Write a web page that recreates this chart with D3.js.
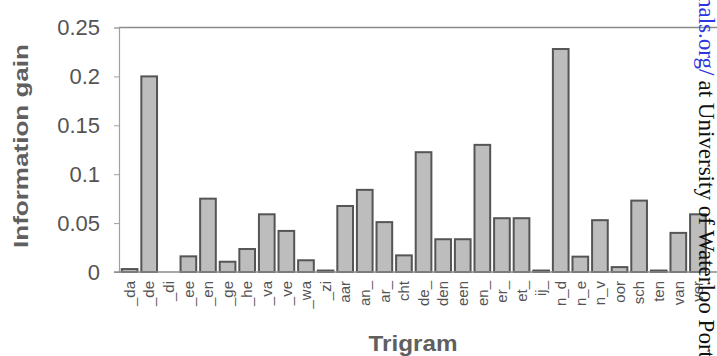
<!DOCTYPE html>
<html>
<head>
<meta charset="utf-8">
<script src="https://cdn.jsdelivr.net/npm/d3@7"></script>
<style>
  body { margin: 0; background: #fff; }
  svg { display: block; }
</style>
</head>
<body>
<div id="app"></div>
<script>
// trigrams and their information gain
const trigrams = ['_da', '_de', '_di', '_ee', '_en', '_ge', '_he', '_va', '_ve', '_wa',
  '_zi', 'aar', 'an_', 'ar_', 'cht', 'de_', 'den', 'een', 'en_', 'er_',
  'et_', 'ij_', 'n_d', 'n_e', 'n_v', 'oor', 'sch', 'ten', 'van', 'ver'];
const gains = [0.003, 0.2, 0, 0.016, 0.075, 0.0105, 0.0235, 0.059, 0.042, 0.012,
  0.0015, 0.0675, 0.084, 0.051, 0.017, 0.1225, 0.0335, 0.0335, 0.13, 0.055,
  0.055, 0.0015, 0.228, 0.0157, 0.053, 0.005, 0.073, 0.0015, 0.04, 0.059];
const yTicks = [0, 0.05, 0.1, 0.15, 0.2, 0.25];
const yTickLabels = ['0', '0.05', '0.1', '0.15', '0.2', '0.25'];

const data = trigrams.map((k, i) => ({ key: k, value: gains[i] }));

const width = 717;
const height = 356;
const plotLeft = 119;
const plotTop = 27.5;
const plotBottom = 272;

const svg = d3
  .select('#app')
  .append('svg')
  .attr('width', width)
  .attr('height', height)
  .style('font-family', 'Liberation Sans, Arial, sans-serif');

const x = d3
  .scaleBand()
  .domain(trigrams)
  .range([plotLeft, 708.5])
  .paddingInner(0.2)
  .paddingOuter(0.14);

const y = d3.scaleLinear().domain([0, 0.25]).range([plotBottom, plotTop]);

// top frame line at 0.25
svg.append('line')
  .attr('x1', plotLeft)
  .attr('x2', width)
  .attr('y1', y(0.25))
  .attr('y2', y(0.25))
  .attr('stroke', '#8a8a8a')
  .attr('stroke-width', 1.5);

// y axis
const yAxis = svg.append('g')
  .attr('transform', `translate(${plotLeft},0)`)
  .call(d3.axisLeft(y)
    .tickValues(yTicks)
    .tickFormat((d, i) => yTickLabels[i])
    .tickSize(5)
    .tickPadding(14));

yAxis.select('.domain').attr('stroke', '#a0a0a0').attr('stroke-width', 1.2);
yAxis.selectAll('.tick line').attr('stroke', '#a0a0a0');
yAxis.selectAll('.tick text')
  .attr('fill', '#545454')
  .attr('font-size', 22)
  .attr('font-family', 'Liberation Sans, Arial, sans-serif');

// bars
svg.selectAll('rect.bars')
  .data(data)
  .join('rect')
  .attr('class', 'bars')
  .attr('x', (d) => x(d.key))
  .attr('width', x.bandwidth())
  .attr('y', (d) => y(d.value))
  .attr('height', (d) => y(0) - y(d.value))
  .attr('fill', '#bdbdbd')
  .attr('stroke', '#555')
  .attr('stroke-width', 2)
  .style('display', (d) => (d.value > 0 ? null : 'none'));

// x axis baseline + labels
const xAxis = svg.append('g')
  .attr('transform', `translate(0,${plotBottom})`)
  .call(d3.axisBottom(x).tickSize(0).tickPadding(9));

xAxis.select('.domain')
  .attr('d', `M${plotLeft - 5},0H${width}`)
  .attr('stroke', '#8a8a8a')
  .attr('stroke-width', 1.5);

xAxis.selectAll('.tick text')
  .attr('transform', 'rotate(-90)')
  .attr('text-anchor', 'end')
  .attr('x', -9)
  .attr('y', 0)
  .attr('dy', '0.35em')
  .attr('fill', '#545454')
  .attr('font-size', 15)
  .attr('font-family', 'Liberation Sans, Arial, sans-serif');

// axis titles
svg.append('text')
  .attr('transform', 'translate(28,146) rotate(-90)')
  .attr('text-anchor', 'middle')
  .attr('font-weight', 'bold')
  .attr('font-size', 21)
  .attr('fill', '#5f5f5f')
  .attr('textLength', 204)
  .attr('lengthAdjust', 'spacingAndGlyphs')
  .text('Information gain');

svg.append('text')
  .attr('x', 413)
  .attr('y', 351)
  .attr('text-anchor', 'middle')
  .attr('font-weight', 'bold')
  .attr('font-size', 22)
  .attr('fill', '#5f5f5f')
  .attr('textLength', 89)
  .attr('lengthAdjust', 'spacingAndGlyphs')
  .text('Trigram');

// scanned page margin note on the right edge
const note = svg.append('text')
  .attr('transform', 'translate(699,0) rotate(90)')
  .attr('font-family', 'Liberation Serif, Times New Roman, serif')
  .attr('font-size', 23);

note.append('tspan').attr('x', -4).attr('fill', '#2b35e0').text('nals.org/');
note.append('tspan').attr('dx', 5).attr('fill', '#111').text('at University of Waterloo Porter');
</script>
</body>
</html>
